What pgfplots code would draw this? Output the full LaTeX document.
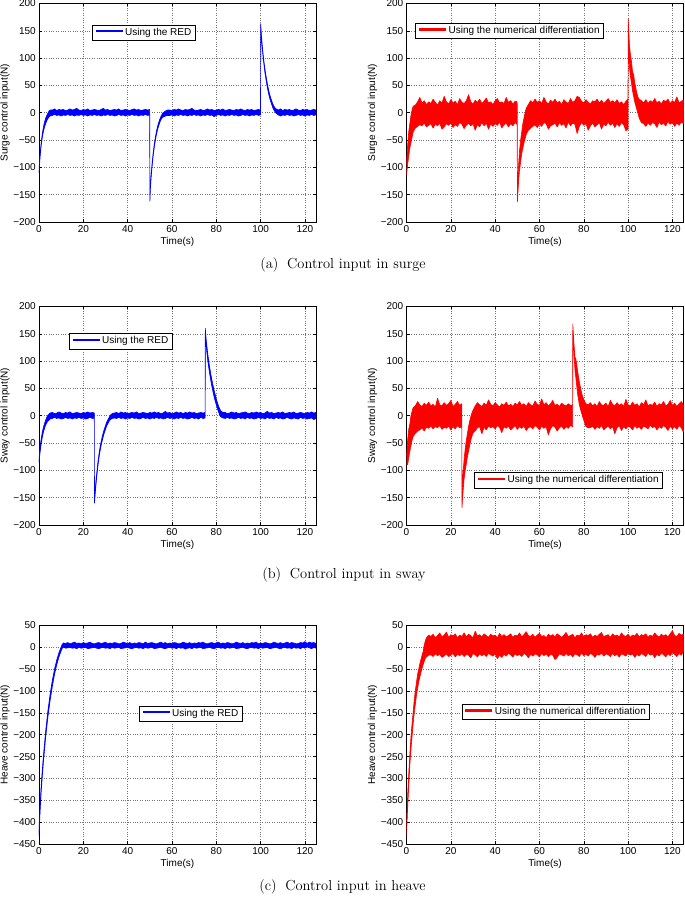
\documentclass[border=0pt]{standalone}
\usepackage{fontspec}
\usepackage{pgfplots}
\pgfplotsset{compat=1.18}
\newfontfamily\hel{Liberation Sans}

\pgfplotsset{
 base/.style={
  scale only axis, width=277pt, height=218.5pt, anchor=south west,
  xmin=0,xmax=125, xtick={0,20,...,120},
  grid=major, major grid style={dotted, line width=0.5pt, black!55},
  axis line style={line width=0.6pt},
  tick style={black, line width=0.5pt}, tick align=inside, major tick length=3pt,
  /pgf/number format/assume math mode=true,
  tick label style={font=\hel\fontsize{10}{12}\selectfont, inner sep=0pt},
  xticklabel shift=3pt, yticklabel shift=3pt,
  label style={font=\hel\fontsize{10}{12}\selectfont},
  xlabel={Time(s)},
  xlabel style={at={(axis description cs:0.5,-0.092)}, anchor=center},
  ylabel style={at={(axis description cs:-0.123,0.5)}, anchor=center},
 },
 surge/.style={ymin=-200,ymax=200,ytick={-200,-150,...,200}, yticklabels={−200,−150,−100,−50,0,50,100,150,200}},
 heave/.style={ymin=-450,ymax=50,ytick={-450,-400,...,50}, yticklabels={−450,−400,−350,−300,−250,−200,−150,−100,−50,0,50}},
 blueband/.style={draw=blue, fill=blue, line width=0.6pt, line join=round, mark=none},
 redband/.style={draw=red, fill=red, line width=0.6pt, line join=round, mark=none},
}
\tikzset{legbox/.style={draw=black, line width=0.5pt, fill=white, anchor=north west, inner xsep=3.5pt, inner ysep=3pt, font=\hel\fontsize{10}{12}\selectfont}}
\newcommand\legB{\textcolor{blue}{\rule[0.27em]{27pt}{2.2pt}}\hspace{2.5pt}}
\newcommand\legR{\textcolor{red}{\rule[0.27em]{27pt}{2.2pt}}\hspace{2.5pt}}

\begin{document}
\begin{tikzpicture}
\useasboundingbox (0pt,0pt) rectangle (685pt,897pt);

% ---------- (a) left: surge, RED
\begin{axis}[base, surge, at={(39pt,675pt)}, ylabel={Surge control input(N)}]
\addplot[blueband] coordinates {
(0,-106)(0.3,-86)(0.6,-70)(1,-54)(1.5,-38)(2,-26)(2.5,-17)(3,-10)(3.5,-5)(4,-1)(4.5,3)(5,5)
(6,5)(7,7)(8,4)(9,6)(10,5)(11,6)(12,4)(13,5)(14,7)(15,5)(16,6)(17,8)(18,5)(19,4)(20,6)(21,5)(22,7)(23,4)(24,5)(25,6)(26,5)(27,4)(28,6)(29,8)(30,5)(31,6)(32,4)(33,5)(34,6)(35,5)(36,7)(37,4)(38,5)(39,6)(40,5)(41,4)(42,6)(43,7)(44,5)(45,6)(46,4)(47,5)(48,6)(49,5)(49.95,6)
(50.05,-156)(50.3,-132)(50.6,-113)(51,-94)(51.5,-74)(52,-58)(52.5,-45)(53,-34)(53.5,-25)(54,-18)(54.5,-12)(55,-7)(55.5,-3)(56,0)(57,3)(58,5)
(59,5)(60,4)(61,6)(62,5)(63,7)(64,5)(65,4)(66,6)(67,5)(68,6)(69,8)(70,5)(71,4)(72,5)(73,6)(74,4)(75,5)(76,7)(77,5)(78,6)(79,4)(80,5)(81,6)(82,5)(83,7)(84,4)(85,5)(86,6)(87,5)(88,4)(89,6)(90,5)(91,7)(92,5)(93,4)(94,6)(95,5)(96,6)(97,4)(98,5)(99,6)(99.95,5)
(100.05,163)(100.4,140)(100.8,121)(101.2,105)(101.6,91)(102,79)(102.5,66)(103,54)(103.5,44)(104,35)(104.5,28)(105,22)(105.5,16)(106,12)(106.5,9)(107,7)
(108,5)(109,7)(110,4)(111,6)(112,5)(113,6)(114,4)(115,5)(116,7)(117,5)(118,4)(119,6)(120,5)(121,6)(122,4)(123,5)(124,6)(125,5)
(125,-4)(124,-5)(123,-3)(122,-5)(121,-4)(120,-6)(119,-4)(118,-5)(117,-3)(116,-5)(115,-6)(114,-4)(113,-5)(112,-3)(111,-5)(110,-4)(109,-6)(108,-4)
(107,-1)(106.5,2)(106,5)(105.5,9)(105,15)(104.5,21)(104,28)(103.5,37)(103,47)(102.5,59)(102,72)(101.6,85)(101.2,99)(100.8,115)(100.4,134)(100.1,152)(99.95,-4)
(99,-5)(98,-3)(97,-5)(96,-4)(95,-6)(94,-4)(93,-5)(92,-3)(91,-5)(90,-6)(89,-4)(88,-5)(87,-3)(86,-5)(85,-4)(84,-6)(83,-4)(82,-5)(81,-3)(80,-5)(79,-7)(78,-4)(77,-5)(76,-3)(75,-5)(74,-4)(73,-6)(72,-4)(71,-5)(70,-3)(69,-5)(68,-4)(67,-6)(66,-4)(65,-5)(64,-3)(63,-5)(62,-4)(61,-6)(60,-4)(59,-5)
(58,-5)(57,-6)(56,-8)(55.5,-10)(55,-13)(54.5,-18)(54,-24)(53.5,-31)(53,-40)(52.5,-51)(52,-64)(51.5,-80)(51,-100)(50.6,-119)(50.3,-138)(50.05,-162)(49.95,-4)
(49,-5)(48,-3)(47,-5)(46,-4)(45,-6)(44,-4)(43,-5)(42,-3)(41,-5)(40,-4)(39,-6)(38,-4)(37,-5)(36,-3)(35,-5)(34,-6)(33,-4)(32,-5)(31,-3)(30,-5)(29,-4)(28,-6)(27,-4)(26,-5)(25,-3)(24,-5)(23,-4)(22,-6)(21,-4)(20,-5)(19,-3)(18,-5)(17,-4)(16,-6)(15,-4)(14,-5)(13,-3)(12,-5)(11,-4)(10,-6)(9,-4)(8,-5)(7,-3)(6,-5)
(5,-6)(4.5,-8)(4,-11)(3.5,-15)(3,-20)(2.5,-26)(2,-34)(1.5,-45)(1,-60)(0.6,-76)(0.3,-92)(0,-110)
};
\node[legbox] at (rel axis cs:0.191,0.903) {\legB Using the RED};
\end{axis}

% ---------- (a) right: surge, numerical
\begin{axis}[base, surge, at={(406.5pt,675pt)}, ylabel={Surge control input(N)}]
\addplot[redband] coordinates {
(0,-95)(0.5,-60)(1,-35)(1.5,-20)(2,-5)(2.5,5)(3,12)(4,14)(5,20)
(6,28)(7,18)(8,22)(9,15)(10,20)(11,17)(12,25)(13,19)(14,14)(15,22)(16,18)(17,30)(18,20)(19,16)(20,24)(21,18)(22,21)(23,15)(24,26)(25,19)(26,17)(27,22)(28,33)(29,20)(30,16)(31,23)(32,19)(33,25)(34,17)(35,21)(36,27)(37,18)(38,20)(39,15)(40,22)(41,26)(42,18)(43,20)(44,17)(45,28)(46,19)(47,22)(48,16)(49,21)(49.95,20)
(50.05,-150)(50.3,-120)(50.6,-95)(51,-70)(51.5,-50)(52,-35)(52.5,-20)(53,-10)(53.5,0)(54,8)(55,15)(56,22)(57,18)
(58,25)(59,19)(60,22)(61,17)(62,28)(63,20)(64,16)(65,23)(66,19)(67,25)(68,18)(69,21)(70,15)(71,24)(72,20)(73,17)(74,26)(75,19)(76,22)(77,30)(78,28)(79,21)(80,18)(81,24)(82,19)(83,16)(84,22)(85,20)(86,25)(87,18)(88,23)(89,17)(90,21)(91,26)(92,19)(93,22)(94,18)(95,24)(96,17)(97,20)(98,15)(99,21)(99.95,25)
(100.05,172)(100.3,150)(100.6,125)(101,108)(101.5,95)(102,75)(102.5,70)(103,55)(103.5,45)(104,35)(104.5,28)(105,25)(106,22)(107,18)
(108,24)(109,17)(110,22)(111,19)(112,26)(113,18)(114,21)(115,16)(116,23)(117,20)(118,25)(119,17)(120,22)(121,19)(122,29)(123,18)(124,21)(125,23)
(125,-20)(124,-17)(123,-23)(122,-19)(121,-25)(120,-18)(119,-21)(118,-16)(117,-24)(116,-19)(115,-22)(114,-17)(113,-27)(112,-20)(111,-18)(110,-23)(109,-19)(108,-25)
(107,-20)(106,-18)(105,-10)(104.5,-2)(104,5)(103.5,12)(103,20)(102.5,30)(102,40)(101.5,55)(101,68)(100.6,85)(100.3,110)(100.1,140)(99.95,-30)
(99,-33)(98,-22)(97,-18)(96,-25)(95,-20)(94,-27)(93,-19)(92,-23)(91,-17)(90,-24)(89,-21)(88,-30)(87,-18)(86,-22)(85,-26)(84,-19)(83,-24)(82,-32)(81,-20)(80,-23)(79,-18)(78,-25)(77,-38)(76,-21)(75,-19)(74,-24)(73,-17)(72,-28)(71,-20)(70,-23)(69,-18)(68,-26)(67,-19)(66,-22)(65,-24)(64,-30)(63,-20)(62,-18)(61,-25)(60,-21)(59,-27)(58,-22)
(57,-25)(56,-28)(55,-32)(54,-40)(53.5,-48)(53,-55)(52.5,-65)(52,-75)(51.5,-90)(51,-105)(50.6,-125)(50.3,-145)(50.05,-163)(49.95,-22)
(49,-18)(48,-24)(47,-20)(46,-26)(45,-19)(44,-22)(43,-28)(42,-17)(41,-23)(40,-20)(39,-25)(38,-21)(37,-30)(36,-19)(35,-24)(34,-18)(33,-26)(32,-22)(31,-32)(30,-20)(29,-24)(28,-19)(27,-23)(26,-29)(25,-21)(24,-18)(23,-25)(22,-22)(21,-27)(20,-19)(19,-23)(18,-20)(17,-26)(16,-30)(15,-19)(14,-24)(13,-21)(12,-28)(11,-20)(10,-23)(9,-26)(8,-19)(7,-24)(6,-22)
(5,-25)(4,-28)(3,-35)(2.5,-45)(2,-55)(1.5,-65)(1,-80)(0.5,-95)(0,-115)
};
\node[legbox] at (rel axis cs:0.032,0.912) {\legR Using the numerical differentiation};
\end{axis}

% ---------- (b) left: sway, RED
\begin{axis}[base, surge, at={(39pt,372pt)}, ylabel={Sway control input(N)}]
\addplot[blueband] coordinates {
(0,-80)(0.3,-65)(0.6,-54)(1,-42)(1.5,-30)(2,-21)(2.5,-14)(3,-8)(3.5,-3)(4,1)(4.5,3)(5,5)
(6,6)(7,4)(8,5)(9,7)(10,5)(11,4)(12,6)(13,5)(14,7)(15,4)(16,5)(17,6)(18,5)(19,4)(20,6)(21,5)(22,7)(23,5)(24,6)(24.95,5)
(25.05,-155)(25.3,-138)(25.6,-124)(26,-107)(26.5,-88)(27,-72)(27.5,-59)(28,-48)(28.5,-39)(29,-31)(29.5,-24)(30,-18)(30.5,-12)(31,-8)(31.5,-4)(32,0)(33,4)
(34,5)(35,6)(36,4)(37,7)(38,5)(39,6)(40,4)(41,5)(42,6)(43,5)(44,7)(45,4)(46,5)(47,6)(48,5)(49,4)(50,6)(51,5)(52,7)(53,5)(54,6)(55,4)(56,5)(57,8)(58,5)(59,6)(60,4)(61,5)(62,7)(63,5)(64,6)(65,4)(66,6)(67,5)(68,7)(69,5)(70,6)(71,4)(72,5)(73,6)(74,5)(74.95,6)
(75.05,160)(75.4,141)(75.8,126)(76.2,112)(76.6,100)(77,89)(77.5,77)(78,66)(78.5,56)(79,47)(79.5,39)(80,31)(80.5,24)(81,18)(81.5,13)(82,9)(83,6)
(84,6)(85,4)(86,5)(87,7)(88,5)(89,6)(90,4)(91,5)(92,6)(93,7)(94,5)(95,4)(96,6)(97,5)(98,7)(99,5)(100,6)(101,4)(102,5)(103,8)(104,5)(105,6)(106,4)(107,5)(108,6)(109,5)(110,7)(111,4)(112,5)(113,6)(114,5)(115,7)(116,4)(117,5)(118,6)(119,5)(120,4)(121,6)(122,5)(123,7)(124,5)(125,6)
(125,-5)(124,-7)(123,-4)(122,-5)(121,-6)(120,-4)(119,-5)(118,-3)(117,-6)(116,-5)(115,-4)(114,-6)(113,-5)(112,-3)(111,-5)(110,-6)(109,-4)(108,-5)(107,-3)(106,-6)(105,-4)(104,-5)(103,-3)(102,-6)(101,-4)(100,-5)(99,-3)(98,-5)(97,-6)(96,-4)(95,-5)(94,-3)(93,-6)(92,-4)(91,-5)(90,-3)(89,-5)(88,-6)(87,-4)(86,-5)(85,-3)(84,-5)
(83,-4)(82,-2)(81.5,2)(81,7)(80.5,13)(80,20)(79.5,27)(79,35)(78.5,44)(78,54)(77.5,65)(77,77)(76.6,88)(76.2,100)(75.8,114)(75.4,130)(75.1,150)(74.95,-4)
(74,-5)(73,-3)(72,-6)(71,-4)(70,-5)(69,-3)(68,-5)(67,-6)(66,-4)(65,-5)(64,-3)(63,-5)(62,-4)(61,-6)(60,-4)(59,-5)(58,-3)(57,-5)(56,-6)(55,-4)(54,-5)(53,-3)(52,-5)(51,-4)(50,-6)(49,-4)(48,-5)(47,-3)(46,-5)(45,-6)(44,-4)(43,-5)(42,-3)(41,-5)(40,-4)(39,-6)(38,-4)(37,-5)(36,-3)(35,-5)(34,-4)
(33,-5)(32,-8)(31.5,-11)(31,-15)(30.5,-19)(30,-25)(29.5,-31)(29,-38)(28.5,-46)(28,-55)(27.5,-66)(27,-79)(26.5,-95)(26,-114)(25.6,-131)(25.3,-146)(25.05,-160)(24.95,-4)
(24,-5)(23,-3)(22,-5)(21,-6)(20,-4)(19,-5)(18,-3)(17,-5)(16,-4)(15,-6)(14,-4)(13,-5)(12,-3)(11,-5)(10,-6)(9,-4)(8,-5)(7,-3)(6,-5)
(5,-6)(4.5,-8)(4,-10)(3.5,-13)(3,-17)(2.5,-23)(2,-30)(1.5,-39)(1,-51)(0.6,-63)(0.3,-74)(0,-85)
};
\node[legbox] at (rel axis cs:0.108,0.877) {\legB Using the RED};
\end{axis}

% ---------- (b) right: sway, numerical
\begin{axis}[base, surge, at={(406.5pt,372pt)}, ylabel={Sway control input(N)}]
\addplot[redband] coordinates {
(0,-75)(0.5,-45)(1,-25)(1.5,-15)(2,0)(2.5,8)(3,15)(4,18)(5,26)
(6,20)(7,17)(8,23)(9,19)(10,25)(11,18)(12,21)(13,16)(14,32)(15,20)(16,18)(17,24)(18,19)(19,22)(20,28)(21,17)(22,21)(23,26)(24,19)(24.95,22)
(25.05,-150)(25.3,-125)(25.6,-100)(26,-80)(26.5,-60)(27,-45)(27.5,-32)(28,-20)(28.5,-10)(29,-2)(29.5,5)(30,10)(31,18)(32,24)
(33,20)(34,17)(35,23)(36,19)(37,29)(38,21)(39,18)(40,24)(41,20)(42,16)(43,22)(44,19)(45,25)(46,18)(47,21)(48,17)(49,23)(50,20)(51,26)(52,19)(53,22)(54,17)(55,24)(56,20)(57,18)(58,27)(59,21)(60,19)(61,31)(62,20)(63,24)(64,18)(65,22)(66,28)(67,19)(68,21)(69,17)(70,23)(71,20)(72,18)(73,22)(74,19)(74.95,20)
(75.05,168)(75.3,150)(75.6,130)(76,108)(76.4,104)(76.8,95)(77.2,82)(77.6,72)(78,62)(78.5,52)(79,42)(79.5,35)(80,30)(80.5,25)(81,22)(82,20)
(83,24)(84,18)(85,22)(86,17)(87,26)(88,20)(89,19)(90,23)(91,17)(92,28)(93,21)(94,18)(95,24)(96,19)(97,22)(98,17)(99,30)(100,20)(101,18)(102,25)(103,19)(104,22)(105,16)(106,24)(107,20)(108,29)(109,18)(110,21)(111,19)(112,25)(113,17)(114,22)(115,20)(116,26)(117,18)(118,21)(119,28)(120,19)(121,23)(122,17)(123,22)(124,26)(125,20)
(125,-30)(124,-22)(123,-18)(122,-25)(121,-20)(120,-24)(119,-19)(118,-27)(117,-21)(116,-18)(115,-23)(114,-20)(113,-26)(112,-19)(111,-22)(110,-17)(109,-24)(108,-21)(107,-19)(106,-25)(105,-20)(104,-23)(103,-18)(102,-26)(101,-21)(100,-19)(99,-24)(98,-20)(97,-27)(96,-18)(95,-22)(94,-33)(93,-20)(92,-24)(91,-19)(90,-22)(89,-26)(88,-18)(87,-23)(86,-20)(85,-25)(84,-19)(83,-22)
(82,-22)(81,-20)(80.5,-15)(80,-8)(79.5,-2)(79,5)(78.5,12)(78,20)(77.6,30)(77.2,40)(76.8,55)(76.4,70)(76,85)(75.6,110)(75.3,135)(75.1,160)(74.95,-20)
(74,-18)(73,-23)(72,-20)(71,-25)(70,-19)(69,-22)(68,-28)(67,-21)(66,-18)(65,-24)(64,-35)(63,-20)(62,-23)(61,-19)(60,-26)(59,-21)(58,-18)(57,-24)(56,-20)(55,-22)(54,-27)(53,-19)(52,-23)(51,-20)(50,-25)(49,-18)(48,-22)(47,-26)(46,-19)(45,-23)(44,-20)(43,-31)(42,-21)(41,-18)(40,-24)(39,-20)(38,-22)(37,-19)(36,-26)(35,-21)(34,-33)(33,-20)
(32,-22)(31,-28)(30,-32)(29.5,-38)(29,-45)(28.5,-55)(28,-65)(27.5,-75)(27,-88)(26.5,-100)(26,-115)(25.6,-135)(25.3,-150)(25.05,-168)(24.95,-20)
(24,-22)(23,-18)(22,-24)(21,-20)(20,-26)(19,-19)(18,-23)(17,-21)(16,-25)(15,-18)(14,-22)(13,-20)(12,-24)(11,-19)(10,-23)(9,-21)(8,-28)(7,-22)(6,-26)
(5,-28)(4,-32)(3,-38)(2.5,-45)(2,-55)(1.5,-65)(1,-78)(0.5,-90)(0,-90)
};
\node[legbox] at (rel axis cs:0.245,0.241) {\legR Using the numerical differentiation};
\end{axis}

% ---------- (c) left: heave, RED
\begin{axis}[base, heave, at={(39pt,53pt)}, ylabel={Heave control input(N)}]
\addplot[blueband] coordinates {
(0,-415)(0.5,-360)(1,-315)(1.5,-280)(2,-248)(3,-192)(4,-146)(5,-108)(6,-76)(7,-50)(8,-29)(9,-12)(10,1)(10.5,7)(11,10)
(12,9)(13,11)(14,8)(15,10)(16,12)(17,9)(18,10)(19,8)(20,11)(21,9)(22,10)(23,12)(24,9)(25,8)(26,10)(27,11)(28,9)(29,10)(30,12)(31,8)(32,10)(33,9)(34,11)(35,10)(36,8)(37,9)(38,12)(39,10)(40,9)(41,11)(42,8)(43,10)(44,9)(45,11)(46,10)(47,8)(48,12)(49,9)(50,10)(51,11)(52,9)(53,8)(54,10)(55,12)(56,9)(57,11)(58,8)(59,10)(60,9)(61,11)(62,10)(63,8)(64,9)(65,12)(66,10)(67,9)(68,11)(69,8)(70,10)(71,9)(72,11)(73,10)(74,12)(75,9)(76,8)(77,10)(78,11)(79,9)(80,10)(81,12)(82,8)(83,10)(84,9)(85,11)(86,10)(87,8)(88,9)(89,12)(90,10)(91,9)(92,11)(93,8)(94,10)(95,9)(96,11)(97,10)(98,12)(99,8)(100,10)(101,9)(102,11)(103,10)(104,8)(105,9)(106,12)(107,10)(108,9)(109,11)(110,8)(111,10)(112,12)(113,9)(114,11)(115,10)(116,8)(117,9)(118,11)(119,10)(120,13)(121,9)(122,12)(123,10)(124,11)(125,9)
(125,-2)(124,0)(123,-3)(122,-1)(121,1)(120,-2)(119,0)(118,-3)(117,-1)(116,-2)(115,0)(114,-3)(113,-1)(112,-2)(111,0)(110,-1)(109,-3)(108,-2)(107,0)(106,-1)(105,-2)(104,-3)(103,0)(102,-1)(101,-2)(100,0)(99,-3)(98,-1)(97,-2)(96,0)(95,-1)(94,-3)(93,-2)(92,0)(91,-1)(90,-2)(89,-3)(88,0)(87,-1)(86,-2)(85,0)(84,-3)(83,-1)(82,-2)(81,0)(80,-1)(79,-3)(78,-2)(77,0)(76,-1)(75,-2)(74,-3)(73,0)(72,-1)(71,-2)(70,0)(69,-3)(68,-1)(67,-2)(66,-4)(65,-1)(64,-2)(63,0)(62,-3)(61,-1)(60,-2)(59,0)(58,-1)(57,-3)(56,-2)(55,0)(54,-1)(53,-2)(52,-3)(51,0)(50,-1)(49,-2)(48,0)(47,-3)(46,-1)(45,-2)(44,0)(43,-1)(42,-3)(41,-2)(40,0)(39,-1)(38,-2)(37,-3)(36,0)(35,-1)(34,-2)(33,0)(32,-3)(31,-1)(30,-2)(29,0)(28,-1)(27,-3)(26,-2)(25,0)(24,-1)(23,-2)(22,-3)(21,0)(20,-1)(19,-2)(18,0)(17,-3)(16,-1)(15,-2)(14,0)(13,-1)(12,-2)
(11,1)(10.5,-2)(10,-8)(9,-22)(8,-40)(7,-62)(6,-90)(5,-122)(4,-160)(3,-206)(2,-262)(1.5,-295)(1,-330)(0.5,-375)(0,-430)
};
\node[legbox] at (rel axis cs:0.361,0.633) {\legB Using the RED};
\end{axis}

% ---------- (c) right: heave, numerical
\begin{axis}[base, heave, at={(406.5pt,53pt)}, ylabel={Heave control input(N)}]
\addplot[redband] coordinates {
(0,-410)(0.5,-340)(1,-290)(1.5,-245)(2,-205)(2.5,-175)(3,-148)(3.5,-120)(4,-98)(4.5,-80)(5,-62)(5.5,-50)(6,-38)(6.5,-28)(7,-18)(7.5,-10)(8,5)(8.5,15)(9,22)(10,28)
(11,25)(12,30)(13,22)(14,27)(15,33)(16,24)(17,28)(18,35)(19,23)(20,29)(21,26)(22,31)(23,22)(24,28)(25,25)(26,33)(27,24)(28,30)(29,27)(30,22)(31,37)(32,26)(33,29)(34,24)(35,31)(36,27)(37,23)(38,30)(39,26)(40,28)(41,22)(42,32)(43,25)(44,29)(45,24)(46,27)(47,31)(48,23)(49,28)(50,26)(51,33)(52,24)(53,29)(54,36)(55,27)(56,25)(57,30)(58,23)(59,28)(60,32)(61,25)(62,27)(63,22)(64,30)(65,26)(66,29)(67,24)(68,31)(69,27)(70,23)(71,28)(72,34)(73,25)(74,27)(75,30)(76,22)(77,28)(78,26)(79,33)(80,24)(81,29)(82,27)(83,31)(84,23)(85,28)(86,25)(87,30)(88,34)(89,24)(90,27)(91,29)(92,23)(93,31)(94,26)(95,28)(96,24)(97,33)(98,27)(99,25)(100,30)(101,23)(102,28)(103,26)(104,32)(105,24)(106,29)(107,27)(108,31)(109,23)(110,28)(111,25)(112,33)(113,27)(114,24)(115,30)(116,26)(117,29)(118,24)(119,31)(120,38)(121,27)(122,25)(123,32)(124,28)(125,30)
(125,-10)(124,-18)(123,-14)(122,-21)(121,-16)(120,-12)(119,-19)(118,-15)(117,-22)(116,-17)(115,-13)(114,-20)(113,-16)(112,-24)(111,-15)(110,-18)(109,-13)(108,-21)(107,-17)(106,-14)(105,-20)(104,-16)(103,-23)(102,-15)(101,-18)(100,-13)(99,-20)(98,-17)(97,-15)(96,-22)(95,-16)(94,-19)(93,-14)(92,-21)(91,-17)(90,-15)(89,-20)(88,-13)(87,-18)(86,-16)(85,-23)(84,-17)(83,-14)(82,-20)(81,-16)(80,-19)(79,-13)(78,-21)(77,-17)(76,-15)(75,-22)(74,-16)(73,-19)(72,-14)(71,-20)(70,-17)(69,-15)(68,-23)(67,-28)(66,-18)(65,-16)(64,-21)(63,-15)(62,-19)(61,-14)(60,-22)(59,-17)(58,-15)(57,-20)(56,-16)(55,-24)(54,-17)(53,-14)(52,-21)(51,-16)(50,-19)(49,-15)(48,-22)(47,-17)(46,-14)(45,-20)(44,-16)(43,-23)(42,-18)(41,-26)(40,-15)(39,-20)(38,-17)(37,-14)(36,-21)(35,-16)(34,-19)(33,-15)(32,-22)(31,-17)(30,-14)(29,-24)(28,-18)(27,-16)(26,-21)(25,-15)(24,-19)(23,-16)(22,-22)(21,-14)(20,-18)(19,-21)(18,-15)(17,-20)(16,-23)(15,-16)(14,-19)(13,-15)(12,-21)(11,-17)
(10,-18)(9,-22)(8.5,-25)(8,-32)(7.5,-40)(7,-48)(6.5,-58)(6,-68)(5.5,-80)(5,-95)(4.5,-110)(4,-130)(3.5,-150)(3,-175)(2.5,-205)(2,-235)(1.5,-270)(1,-320)(0.5,-370)(0,-430)
};
\node[legbox] at (rel axis cs:0.199,0.642) {\legR Using the numerical differentiation};
\end{axis}

% ---------- captions
\node[anchor=base, font=\fontsize{14.5}{17}\selectfont, inner sep=0pt] at (343pt,628.7pt) {(a)\hspace{0.6em}Control input in surge};
\node[anchor=base, font=\fontsize{14.5}{17}\selectfont, inner sep=0pt] at (344pt,318.5pt) {(b)\hspace{0.6em}Control input in sway};
\node[anchor=base, font=\fontsize{14.5}{17}\selectfont, inner sep=0pt] at (342.5pt,6pt) {(c)\hspace{0.6em}Control input in heave};
\end{tikzpicture}
\end{document}
